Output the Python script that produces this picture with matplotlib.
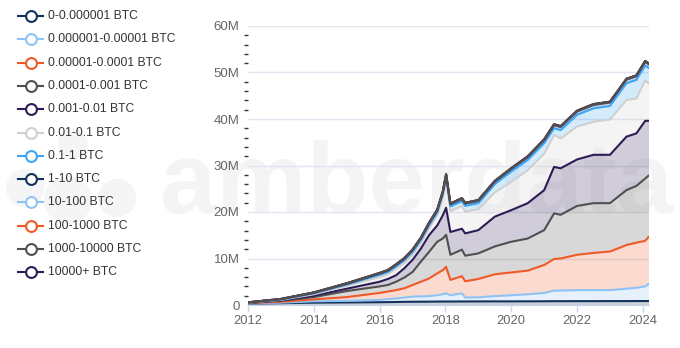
import matplotlib
matplotlib.use('Agg')
import numpy as np
import matplotlib.pyplot as plt
from matplotlib.lines import Line2D
from matplotlib.patches import Circle
from matplotlib.transforms import IdentityTransform

plt.rcParams['font.family'] = ['Liberation Sans', 'DejaVu Sans']

# dates as decimal years
dates = [2012.0, 2013.0, 2014.0, 2015.0, 2016.0, 2016.25, 2016.5, 2016.75, 2017.0,
         2017.25, 2017.5, 2017.75, 2017.92, 2018.02, 2018.15, 2018.5, 2018.6, 2019.0,
         2019.5, 2020.0, 2020.5, 2021.0, 2021.3, 2021.5, 2022.0, 2022.5, 2023.0,
         2023.5, 2023.8, 2024.07, 2024.17]

labels = ['0-0.000001 BTC', '0.000001-0.00001 BTC', '0.00001-0.0001 BTC',
          '0.0001-0.001 BTC', '0.001-0.01 BTC', '0.01-0.1 BTC', '0.1-1 BTC',
          '1-10 BTC', '10-100 BTC', '100-1000 BTC', '1000-10000 BTC', '10000+ BTC']

# address counts per balance band, millions
b0 = [0.3, 0.4, 0.5, 0.55, 0.6, 0.62, 0.65, 0.68, 0.7, 0.71, 0.72, 0.74, 0.75, 0.75,
      0.75, 0.76, 0.76, 0.77, 0.78, 0.78, 0.79, 0.8, 0.82, 0.82, 0.83, 0.83, 0.84,
      0.84, 0.85, 0.85, 0.85]
b1 = [0.05, 0.1, 0.3, 0.35, 0.5, 0.63, 0.75, 0.92, 1.1, 1.14, 1.18, 1.36, 1.55, 1.75,
      1.35, 1.74, 0.84, 0.88, 1.12, 1.32, 1.51, 1.8, 2.28, 2.28, 2.37, 2.37, 2.36,
      2.66, 2.85, 3.15, 3.65]
b2 = [0.05, 0.2, 0.4, 0.8, 1.5, 1.65, 1.8, 2.0, 2.5, 3.15, 3.8, 4.7, 5.2, 5.7,
      3.3, 3.7, 3.5, 3.95, 4.7, 4.9, 5.1, 6.0, 6.8, 6.9, 7.6, 8.0, 8.3,
      9.4, 9.7, 9.8, 10.1]
b3 = [0.05, 0.2, 0.5, 1.3, 1.4, 1.4, 1.8, 2.3, 2.8, 4.3, 5.7, 6.8, 6.8, 6.9,
      5.4, 5.7, 5.5, 5.5, 6.0, 6.6, 6.9, 7.5, 9.8, 9.4, 10.5, 10.7, 10.4,
      11.8, 12.2, 13.4, 13.2]
b4 = [0.02, 0.1, 0.3, 0.5, 1.0, 1.3, 1.4, 2.0, 2.6, 2.8, 3.6, 3.5, 5.0, 5.8,
      4.9, 4.5, 4.8, 5.0, 6.4, 6.8, 7.6, 8.6, 10.0, 10.0, 10.0, 10.4, 10.4,
      11.5, 11.3, 12.4, 11.8]
b5 = [0.05, 0.1, 0.3, 0.6, 1.0, 1.0, 1.4, 1.1, 1.1, 1.2, 1.5, 2.2, 3.7, 5.9,
      4.5, 4.9, 4.7, 4.5, 5.2, 6.1, 7.1, 7.8, 6.9, 6.4, 7.1, 7.1, 7.6,
      7.9, 7.5, 8.7, 8.1]
b6 = [0.02, 0.1, 0.2, 0.3, 0.5, 0.5, 0.5, 0.6, 0.6, 0.6, 0.6, 0.6, 0.8, 0.7,
      1.0, 1.0, 1.2, 1.3, 1.8, 2.2, 2.2, 2.3, 1.4, 1.8, 2.5, 2.9, 2.9,
      3.6, 4.0, 3.2, 3.3]
b7 = [0.02, 0.05, 0.1, 0.15, 0.25, 0.27, 0.3, 0.32, 0.35, 0.37, 0.4, 0.42, 0.45, 0.45,
      0.45, 0.5, 0.5, 0.5, 0.52, 0.55, 0.6, 0.65, 0.7, 0.7, 0.72, 0.74, 0.76,
      0.78, 0.8, 0.82, 0.83]
b8 = [0.01, 0.04, 0.08, 0.1, 0.12, 0.125, 0.13, 0.135, 0.14, 0.14, 0.14, 0.14, 0.14, 0.15,
      0.15, 0.15, 0.15, 0.15, 0.15, 0.15, 0.15, 0.15, 0.14, 0.14, 0.14, 0.14, 0.14,
      0.14, 0.14, 0.14, 0.14]
b9 = [0.002, 0.008, 0.012, 0.014, 0.016, 0.016, 0.016, 0.016, 0.016, 0.016, 0.016, 0.016, 0.016, 0.016,
      0.016, 0.016, 0.016, 0.016, 0.016, 0.016, 0.016, 0.016, 0.016, 0.016, 0.016, 0.016, 0.016,
      0.016, 0.016, 0.016, 0.016]
b10 = [0.001, 0.002, 0.002, 0.002, 0.002, 0.002, 0.002, 0.002, 0.002, 0.002, 0.002, 0.002, 0.002, 0.002,
       0.002, 0.002, 0.002, 0.002, 0.002, 0.002, 0.002, 0.002, 0.002, 0.002, 0.002, 0.002, 0.002,
       0.002, 0.002, 0.002, 0.002]
b11 = [0.0001, 0.0001, 0.0001, 0.0001, 0.0001, 0.0001, 0.0001, 0.0001, 0.0001, 0.0001, 0.0001,
       0.0001, 0.0001, 0.0001, 0.0001, 0.0001, 0.0001, 0.0001, 0.0001, 0.0001, 0.0001, 0.0001,
       0.0001, 0.0001, 0.0001, 0.0001, 0.0001, 0.0001, 0.0001, 0.0001, 0.0001]

series = [b0, b1, b2, b3, b4, b5, b6, b7, b8, b9, b10, b11]

palette = ['#13325b', '#90c3f5', '#f05a28', '#505050', '#2d1b55', '#d0d0d0', '#3ca5f5']
colors = [palette[i % 7] for i in range(12)]

W, H = 680, 348
fig = plt.figure(figsize=(W / 100, H / 100), dpi=100)

# watermark, behind everything
fig.text(160 / W, 1 - 213 / H, 'amberdata', fontsize=73, fontweight='bold',
         color='#f4f4f4', va='baseline', ha='left', zorder=-2)
for cx, cy, r in [(73, 143, 15), (25, 188, 19), (117, 198, 19), (68, 200, 24)]:
    fig.add_artist(Circle((cx, H - cy), r, transform=IdentityTransform(),
                          color='#f5f5f5', zorder=-2, lw=0))

ax = fig.add_axes([248 / W, 1 - 305 / H, (648.5 - 248) / W, (305 - 26) / H])
ax.patch.set_alpha(0)

x = np.array(dates)
base = np.zeros(len(x))
for vals, c in zip(series, colors):
    top = base + np.array(vals)
    ax.fill_between(x, base, top, color=c, alpha=0.22, lw=0, zorder=2)
    base = top
base = np.zeros(len(x))
for i, (vals, c) in enumerate(zip(series, colors)):
    top = base + np.array(vals)
    z = 3.5 if i == 10 else 3
    ax.plot(x, top, color=c, lw=1.5, zorder=z, solid_joinstyle='round')
    base = top

ax.set_xlim(2012, 2024.17)
ax.set_ylim(0, 60)
ax.set_xticks([2012, 2014, 2016, 2018, 2020, 2022, 2024])
ax.set_xticklabels(['2012', '2014', '2016', '2018', '2020', '2022', '2024'])
ax.set_yticks([0, 10, 20, 30, 40, 50, 60])
ax.set_yticklabels(['0', '10M', '20M', '30M', '40M', '50M', '60M'])
ax.set_yticks(np.arange(2, 60, 2), minor=True)
ax.grid(axis='y', color='#e1e5f0', lw=1)
ax.set_axisbelow(True)
for s in ['top', 'right', 'left']:
    ax.spines[s].set_visible(False)
ax.spines['bottom'].set_color('#ccd6eb')
ax.spines['bottom'].set_zorder(4)
ax.tick_params(axis='x', colors='#ccd6eb', length=5, width=1, labelcolor='#666666',
               labelsize=9.3, pad=2)
ax.tick_params(axis='y', which='major', length=0, labelcolor='#666666', labelsize=9.5, pad=6)
ax.tick_params(axis='y', which='minor', length=3, width=1, color='#333333', pad=0)

# legend
for i, (lab, c) in enumerate(zip(labels, colors)):
    yf = 1 - (16 + 23.3 * i) / H
    fig.add_artist(Line2D([18 / W, 43 / W], [yf, yf], color=c, lw=1.5,
                          transform=fig.transFigure))
    fig.add_artist(Line2D([30.5 / W], [yf], color=c, marker='o', markersize=7.8,
                          markerfacecolor='white', markeredgewidth=1.5,
                          transform=fig.transFigure))
    fig.text(48 / W, yf, lab, fontsize=8.7, color='#333333', va='center', ha='left')

fig.savefig('out.png', dpi=100)
